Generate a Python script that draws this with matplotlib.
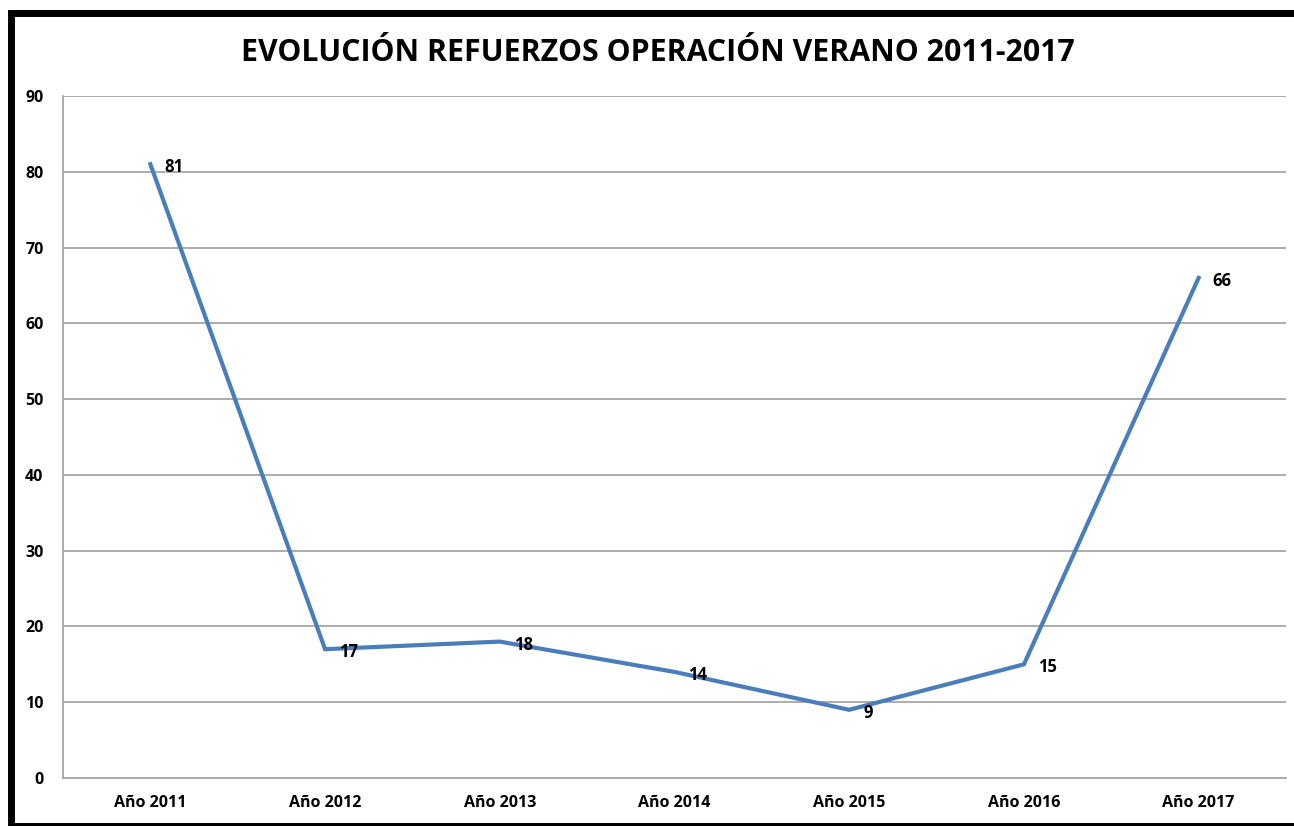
import matplotlib
matplotlib.use("Agg")
import matplotlib.pyplot as plt
from matplotlib.patches import Rectangle

categories = ["Año 2011", "Año 2012", "Año 2013", "Año 2014", "Año 2015", "Año 2016", "Año 2017"]
values = [81, 17, 18, 14, 9, 15, 66]
yticks = [0, 10, 20, 30, 40, 50, 60, 70, 80, 90]
title = "EVOLUCIÓN REFUERZOS OPERACIÓN VERANO 2011-2017"

plt.rcParams['font.family'] = ['Open Sans', 'DejaVu Sans']

W, H = 1294, 826
fig = plt.figure(figsize=(W / 100, H / 100), dpi=100)
ax = fig.add_axes([63 / W, 1 - 778 / H, (1286 - 63) / W, (778 - 96) / H])

x = list(range(len(categories)))
ax.plot(x, values, color="#4A7EBB", lw=3.0, solid_joinstyle="miter", zorder=3)

for xi, v in zip(x, values):
    ax.annotate(str(v), (xi, v), xytext=(14, -3), textcoords="offset pixels",
                ha="left", va="center", fontsize=12, fontweight="bold", color="black", zorder=4)

ax.set_xlim(-0.5, len(categories) - 0.5)
ax.set_ylim(0, 90)
ax.set_yticks(yticks)
ax.set_xticks(x)
ax.set_xticklabels(categories)
ax.grid(axis="y", color="#A6A6A6", lw=1.3)
ax.set_axisbelow(True)
for s in ["top", "right"]:
    ax.spines[s].set_visible(False)
for s in ["left", "bottom"]:
    ax.spines[s].set_color("#A6A6A6")
    ax.spines[s].set_linewidth(1.3)
ax.tick_params(axis="both", length=0, labelsize=11.5, colors="black")
ax.tick_params(axis="y", pad=14)
ax.tick_params(axis="x", pad=12)
for lab in ax.get_xticklabels() + ax.get_yticklabels():
    lab.set_fontweight("bold")

fig.text(658 / W, 1 - 61 / H, title, ha="center", va="baseline", fontsize=21.8, fontweight="bold", color="black")

# outer frame
rect = Rectangle((10.5 / W, 1 - 825.5 / H), (1310 - 10.5) / W, (825.5 - 12.5) / H,
                 transform=fig.transFigure, fill=False, edgecolor="black", lw=5.0, zorder=10)
fig.patches.append(rect)

fig.savefig("out.png", dpi=100)
